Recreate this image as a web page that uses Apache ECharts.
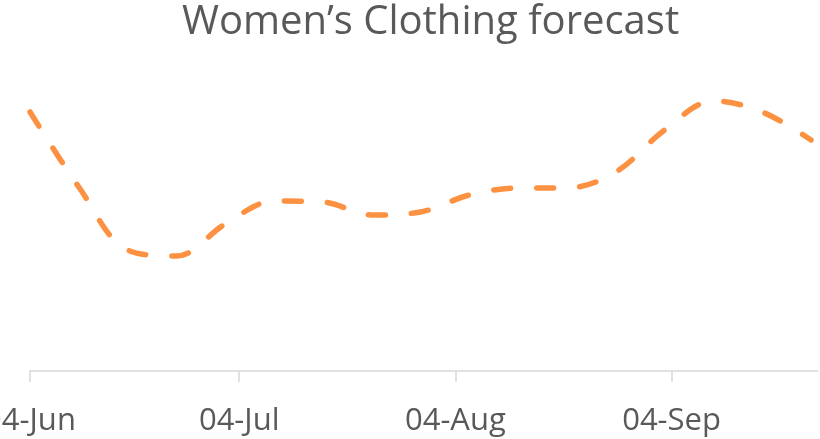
<!DOCTYPE html>
<html>
<head>
<meta charset="utf-8">
<script src="https://cdn.jsdelivr.net/npm/echarts@6/dist/echarts.min.js"></script>
<style>
  html, body { margin: 0; padding: 0; background: #fff; }
  #chart { width: 820px; height: 439px; }
</style>
</head>
<body>
<div id="chart"></div>
<script>
// weekly forecast points
const weeks = [
  '2023-06-04', '2023-06-11', '2023-06-18', '2023-06-25', '2023-07-02',
  '2023-07-09', '2023-07-16', '2023-07-23', '2023-07-30', '2023-08-06',
  '2023-08-13', '2023-08-20', '2023-08-27', '2023-09-03', '2023-09-10',
  '2023-09-17', '2023-09-24'
]
const forecast = [259, 184, 121, 115, 147, 170, 169, 156, 159, 176, 183, 183, 199, 241, 270, 259, 231]
const tickDates = ['2023-06-04', '2023-07-04', '2023-08-04', '2023-09-04']
const monthNames = ['Jan', 'Feb', 'Mar', 'Apr', 'May', 'Jun', 'Jul', 'Aug', 'Sep', 'Oct', 'Nov', 'Dec']

const DAY = 86400000
const toDate = (s) => {
  const [y, m, d] = s.split('-').map(Number)
  return new Date(y, m - 1, d)
}
const start = toDate(weeks[0]).getTime()
// x as days since the first week, so a plain value axis can carry the dates
const dayOf = (s) => Math.round((toDate(s).getTime() - start) / DAY)
const ticks = tickDates.map(dayOf)

const chart = echarts.init(document.getElementById('chart'))

chart.setOption({
  animation: false,
  title: {
    text: 'Women\u2019s Clothing forecast',
    left: 177,
    top: -2,
    textStyle: {
      fontFamily: 'Open Sans',
      fontSize: 40,
      fontWeight: 'normal',
      color: '#595959'
    }
  },
  grid: {
    left: 30,
    right: 2,
    top: 71,
    bottom: 68,
    outerBoundsMode: 'none'
  },
  xAxis: {
    type: 'value',
    min: 0,
    max: 113,
    axisLine: {
      show: true,
      lineStyle: { color: '#d9d9d9', width: 1.5 }
    },
    axisTick: {
      show: true,
      length: 11,
      customValues: ticks,
      lineStyle: { color: '#d9d9d9', width: 1.5 }
    },
    axisLabel: {
      customValues: ticks,
      margin: 35,
      fontFamily: 'Open Sans',
      fontSize: 31,
      color: '#595959',
      formatter: (val) => {
        const d = new Date(start + val * DAY)
        return String(d.getDate()).padStart(2, '0') + '-' + monthNames[d.getMonth()]
      }
    },
    splitLine: { show: false }
  },
  yAxis: {
    type: 'value',
    min: 0,
    max: 300,
    show: false
  },
  series: [
    {
      type: 'line',
      smooth: 0.35,
      symbol: 'none',
      data: weeks.map((w, i) => [dayOf(w), forecast[i]]),
      lineStyle: {
        color: '#fd9142',
        width: 5.5,
        type: [17, 26],
        cap: 'round'
      }
    }
  ]
})
</script>
</body>
</html>
